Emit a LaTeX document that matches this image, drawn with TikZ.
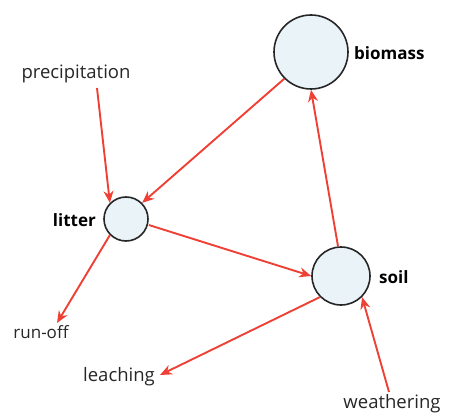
\documentclass[tikz,border=0pt]{standalone}
\usepackage{fontspec}
\setmainfont{Open Sans}
\usetikzlibrary{arrows.meta}
\definecolor{arr}{RGB}{238,64,52}
\definecolor{pool}{RGB}{234,243,247}
\tikzset{
  pool/.style={circle,draw=black!85,line width=1.6pt,inner sep=0pt,fill=pool},
  flow/.style={draw=arr,line width=1.9pt,-{Stealth[length=12pt,width=10pt]}},
  blab/.style={font=\bfseries\fontsize{17}{19}\selectfont,inner sep=0pt},
  lab/.style={font=\fontsize{18.5}{21}\selectfont,text=black!85,inner sep=0pt}
}
\begin{document}
\begin{tikzpicture}[x=1pt,y=-1pt]
\useasboundingbox (0,0) rectangle (449,414);
\node[pool,minimum size=74pt] (bio) at (311,52) {};
\node[pool,minimum size=44pt] (lit) at (126,219) {};
\node[pool,minimum size=58pt] (soil) at (341,276) {};
\node[blab,anchor=west] (biol) at (354,53) {biomass};
\node[blab,anchor=east] (litl) at (96,220) {litter};
\node[blab,anchor=west] (soill) at (379,277) {soil};
\node[lab] (prec) at (76,74) {precipitation};
\node[lab,font=\fontsize{17}{19}\selectfont] (run) at (41,332) {run-off};
\node[lab] (leach) at (119,377) {leaching};
\node[lab] (weath) at (392,404) {weathering};
\coordinate (precS) at (97,88);
\coordinate (runE) at (57,323);
\coordinate (leachE) at (160,375);
\coordinate (weathS) at (389,392);
\draw[flow] (precS) -- (lit.north west);
\draw[flow] (bio.south west) -- (lit.north east);
\draw[flow] (lit.south west) -- (runE);
\draw[flow] (lit.east) ++(0,6) -- (soil.west);
\draw[flow] (soil.north) ++(-3,0) -- (bio.south);
\draw[flow] (soil.south west) -- (leachE);
\draw[flow] (weathS) -- (soil.south east);
\end{tikzpicture}
\end{document}
